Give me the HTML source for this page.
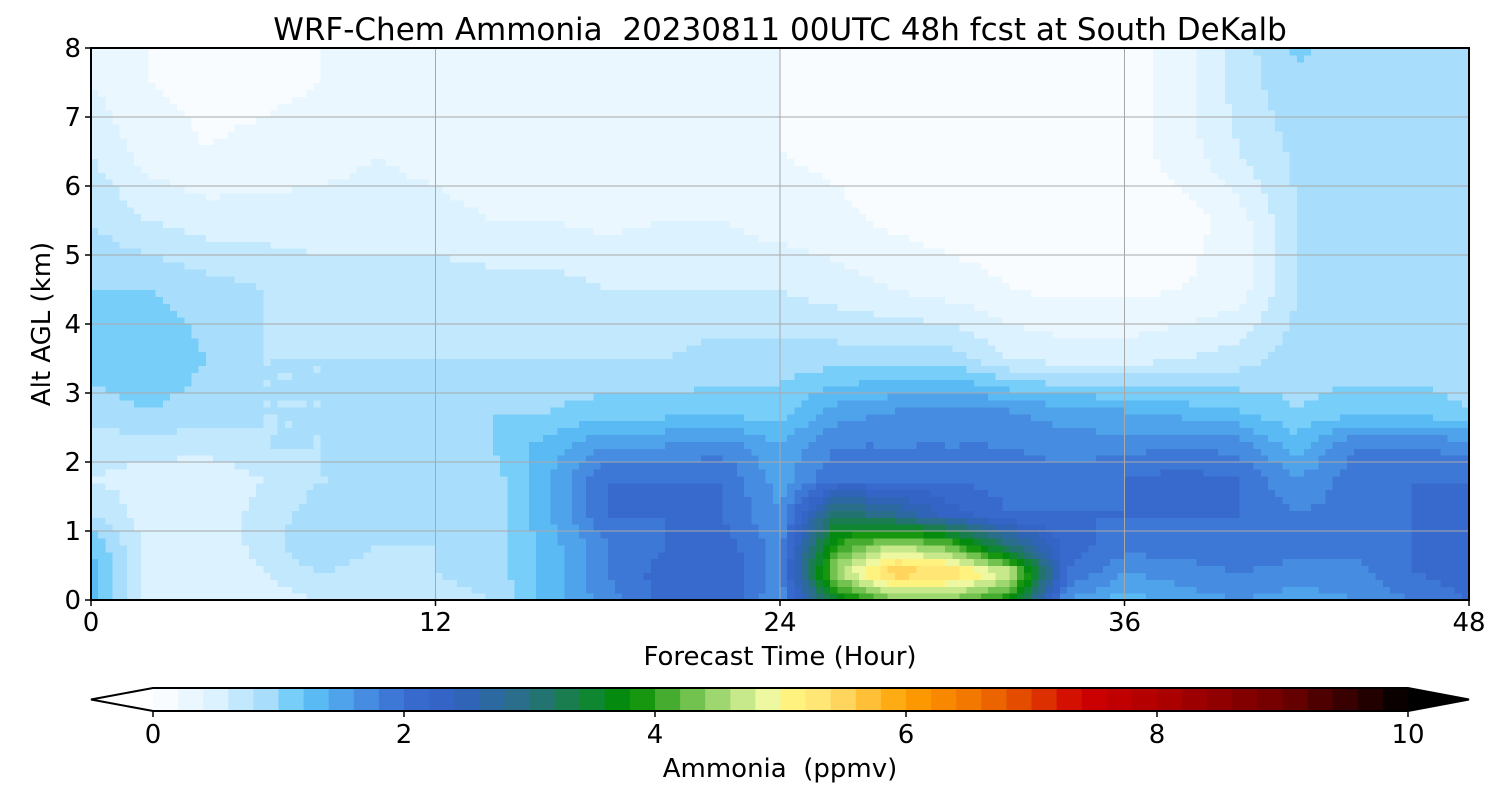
<!DOCTYPE html>
<html><head><meta charset="utf-8"><style>
body{margin:0;background:#fff;width:1500px;height:800px;overflow:hidden;font-family:"Liberation Sans","DejaVu Sans",sans-serif}
svg text{font-family:"DejaVu Sans","Liberation Sans",sans-serif;fill:#000;white-space:pre}
</style></head><body>
<svg id="chart" width="1500" height="800" xmlns="http://www.w3.org/2000/svg">
<text x="780" y="40" font-size="31" text-anchor="middle" xml:space="preserve">WRF-Chem Ammonia  20230811 00UTC 48h fcst at South DeKalb</text>
<g id="plot" shape-rendering="crispEdges"></g>
<g id="grid"></g>
<rect x="91" y="48" width="1378" height="552" fill="none" stroke="#000" stroke-width="2"/>
<g id="xt"></g>
<g id="yt"></g>
<text x="780" y="665" font-size="26" text-anchor="middle">Forecast Time (Hour)</text>
<text transform="translate(50,324) rotate(-90)" font-size="26" text-anchor="middle">Alt AGL (km)</text>
<g id="cb"></g>
<text x="780" y="777" font-size="26" text-anchor="middle" xml:space="preserve">Ammonia  (ppmv)</text>
</svg>
<script>
const hours=[0,2,4,6,8,10,12,14,16,18,20,22,24,26,28,30,32,34,36,38,40,42,44,46,48];
const heights=[0,0.4,0.8,1.25,1.75,2.25,2.75,3.5,4.5,5.5,6.5,7.5,8];
const r0=[1.3,0.5,0.4,0.5,0.6,0.6,0.7,0.8,1.3,1.7,2.1,2.2,1.6,3.6,4.3,4.3,3.8,1.6,1.3,1.5,1.6,1.5,1.6,1.8,2.0];
const r1=[1.3,0.5,0.4,0.6,0.8,0.7,0.8,0.9,1.3,1.8,2.1,2.2,1.7,4.6,5.6,5.4,4.8,2.0,1.6,1.7,1.8,1.7,1.7,2.0,2.1];
const r2=[1.2,0.5,0.4,0.7,1.0,0.8,0.8,0.9,1.3,1.8,2.0,2.1,1.7,4.0,4.6,4.2,3.0,2.1,1.9,1.9,2.0,1.9,1.9,2.0,2.0];
const r3=[0.8,0.5,0.4,0.7,0.9,0.9,0.8,0.9,1.4,2.0,2.0,2.0,1.6,3.2,2.8,2.3,2.0,2.0,2.0,2.0,2.0,1.8,1.9,2.0,2.0];
const r4=[0.6,0.5,0.4,0.6,0.8,0.8,0.8,0.9,1.4,2.0,2.0,2.0,1.5,2.0,2.0,2.0,1.9,1.9,2.0,2.1,2.0,1.6,1.9,2.0,2.0];
const r5=[0.7,0.7,0.7,0.8,0.8,0.9,0.9,1.0,1.3,1.6,1.6,1.7,1.4,1.8,1.8,1.8,1.8,1.7,1.7,1.8,1.7,1.3,1.8,1.8,1.7];
const r6=[0.9,1.0,0.9,0.8,0.8,0.9,0.9,1.0,1.0,1.1,1.1,1.1,1.1,1.5,1.6,1.7,1.6,1.5,1.4,1.3,1.2,1.0,1.1,1.1,1.0];
const r7=[1.1,1.2,1.0,0.8,0.8,0.8,0.8,0.8,0.8,0.8,0.8,0.9,0.9,0.9,0.9,0.9,0.6,0.5,0.5,0.6,0.7,0.9,0.9,0.9,0.9];
const r8=[1.0,1.0,0.9,0.8,0.7,0.7,0.7,0.7,0.7,0.6,0.6,0.6,0.6,0.5,0.4,0.3,0.2,0.15,0.15,0.2,0.3,0.8,0.88,0.88,0.88];
const r9=[0.8,0.6,0.5,0.5,0.5,0.5,0.5,0.4,0.4,0.35,0.4,0.4,0.3,0.25,0.15,0.1,0.1,0.1,0.1,0.1,0.3,0.8,0.88,0.88,0.88];
const r10=[0.6,0.3,0.2,0.25,0.3,0.4,0.3,0.2,0.2,0.2,0.3,0.3,0.2,0.15,0.1,0.1,0.1,0.1,0.1,0.3,0.6,0.85,0.88,0.88,0.88];
const r11=[0.4,0.2,0.15,0.15,0.2,0.3,0.25,0.2,0.25,0.3,0.35,0.3,0.2,0.15,0.1,0.1,0.1,0.1,0.1,0.3,0.7,0.95,0.9,0.88,0.88];
const r12=[0.4,0.2,0.15,0.15,0.2,0.3,0.25,0.2,0.25,0.3,0.35,0.3,0.2,0.15,0.1,0.1,0.1,0.1,0.1,0.3,0.7,1.05,0.9,0.88,0.88];
const rows=[r0,r1,r2,r3,r4,r5,r6,r7,r8,r9,r10,r11,r12];
const xTicks=[0,12,24,36,48];
const yTicks=[0,1,2,3,4,5,6,7,8];
const cbTicks=[0,2,4,6,8,10];
const stops=[[0,'#ffffff'],[0.5,'#dcf2fe'],[0.9,'#a8defc'],[1.2,'#5fc6f8'],[1.6,'#4a98e6'],[2.0,'#3a6dd2'],[2.4,'#3262c2'],[3.0,'#287080'],[3.6,'#0a8a20'],[3.8,'#008a00'],[4.2,'#5cb840'],[4.6,'#b4e080'],[4.9,'#eef8a0'],[5.0,'#fff884'],[5.4,'#ffe070'],[6.0,'#ffa000'],[6.6,'#f07000'],[7.0,'#e04000'],[7.4,'#d00000'],[8.0,'#b00000'],[9.0,'#700000'],[10,'#000000']];
const NS="http://www.w3.org/2000/svg";
const X0=91,X1=1469,Y0=600,Y1=48;
const xs=h=>X0+(h-0)/48*(X1-X0);
const ys=k=>Y0-k/8*(Y0-Y1);
function hex(c){return [1,3,5].map(i=>parseInt(c.substr(i,2),16));}
function cmap(v){v=Math.max(0,Math.min(10,v));for(let i=1;i<stops.length;i++){if(v<=stops[i][0]){const a=stops[i-1],b=stops[i];const t=(v-a[0])/(b[0]-a[0]);const ca=hex(a[1]),cb=hex(b[1]);return 'rgb('+ca.map((x,j)=>Math.round(x+(cb[j]-x)*t)).join(',')+')';}}return '#000';}
function quant(v){return Math.floor(v/0.2)*0.2+0.1;}
function idx(arr,v){for(let i=0;i<arr.length-1;i++){if(v<=arr[i+1])return i;}return arr.length-2;}
function val(h,k){const i=idx(hours,h),j=idx(heights,k);const tx=(h-hours[i])/(hours[i+1]-hours[i]);const ty=(k-heights[j])/(heights[j+1]-heights[j]);const a=rows[j][i],b=rows[j][i+1],c=rows[j+1][i],d=rows[j+1][i+1];return a*(1-tx)*(1-ty)+b*tx*(1-ty)+c*(1-tx)*ty+d*tx*ty;}
const plot=document.getElementById('plot');
const dh=0.25,dk=0.1;
for(let h=0;h<48-1e-9;h+=dh){for(let k=0;k<8-1e-9;k+=dk){
 const v=val(h+dh/2,k+dk/2);
 const r=document.createElementNS(NS,'rect');
 
 
 r.setAttribute('x',xs(h));r.setAttribute('y',ys(k+dk));
 r.setAttribute('width',xs(h+dh)-xs(h)+0.6);r.setAttribute('height',ys(k)-ys(k+dk)+0.6);
 r.setAttribute('fill',cmap(quant(v)));plot.appendChild(r);}}
const grid=document.getElementById('grid');
function line(g,x1,y1,x2,y2,c,w,name){const l=document.createElementNS(NS,'line');l.setAttribute('x1',x1);l.setAttribute('y1',y1);l.setAttribute('x2',x2);l.setAttribute('y2',y2);l.setAttribute('stroke',c);l.setAttribute('stroke-width',w);g.appendChild(l);}
function text(g,x,y,s,anchor,size,name){const t=document.createElementNS(NS,'text');t.setAttribute('x',x);t.setAttribute('y',y);t.setAttribute('font-size',size);t.setAttribute('text-anchor',anchor);t.textContent=s;g.appendChild(t);}
xTicks.forEach(t=>{line(grid,xs(t),Y0,xs(t),Y1,'#a8a8a8',1,'x-grid-line');line(document.getElementById('xt'),xs(t),Y0,xs(t),Y0+6,'#000',1.5,'x-tick');text(document.getElementById('xt'),xs(t),631,t,'middle',26,'x-tick-label');});
yTicks.forEach(t=>{line(grid,X0,ys(t),X1,ys(t),'#a8a8a8',1,'y-grid-line');line(document.getElementById('yt'),X0-6,ys(t),X0,ys(t),'#000',1.5,'y-tick');text(document.getElementById('yt'),X0-10,ys(t)+9,t,'end',26,'y-tick-label');});
const cb=document.getElementById('cb');
const C0=153,C1=1408,CT=688,CB=711;
const cx=v=>C0+v/10*(C1-C0);
for(let i=0;i<50;i++){const r=document.createElementNS(NS,'rect');r.setAttribute('x',cx(i*0.2));r.setAttribute('y',CT);r.setAttribute('width',cx(0.2)-cx(0)+0.5);r.setAttribute('height',CB-CT);r.setAttribute('fill',cmap(i*0.2+0.1));cb.appendChild(r);}
const pl=document.createElementNS(NS,'polygon');pl.setAttribute('points',`${C0},${CT} 91,${(CT+CB)/2} ${C0},${CB}`);pl.setAttribute('fill','#fff');cb.appendChild(pl);
const pr=document.createElementNS(NS,'polygon');pr.setAttribute('points',`${C1},${CT} 1469,${(CT+CB)/2} ${C1},${CB}`);pr.setAttribute('fill','#000');cb.appendChild(pr);
const ol=document.createElementNS(NS,'polygon');ol.setAttribute('points',`91,${(CT+CB)/2} ${C0},${CT} ${C1},${CT} 1469,${(CT+CB)/2} ${C1},${CB} ${C0},${CB}`);ol.setAttribute('fill','none');ol.setAttribute('stroke','#000');ol.setAttribute('stroke-width',2);cb.appendChild(ol);
cbTicks.forEach(t=>{line(cb,cx(t),CB,cx(t),CB+6,'#000',1.5,'colorbar-tick');text(cb,cx(t),743,t,'middle',26,'colorbar-tick-label');});
</script>
</body></html>
